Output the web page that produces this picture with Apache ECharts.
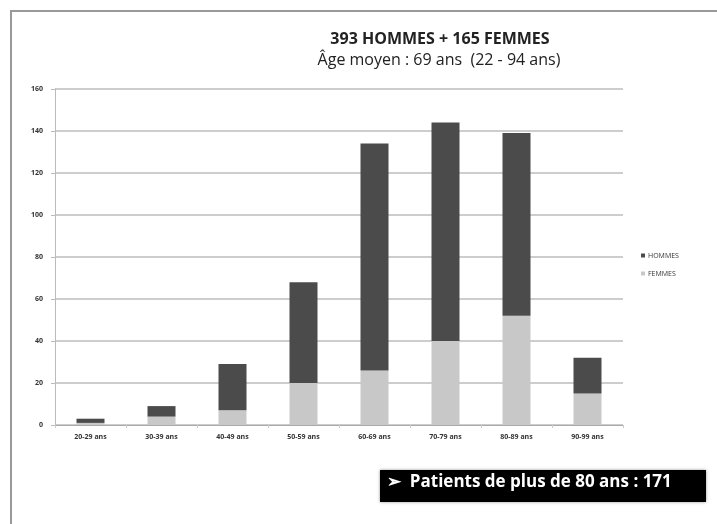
<!DOCTYPE html>
<html>
<head>
<meta charset="utf-8">
<title>Hommes / Femmes par âge</title>
<script src="https://cdn.jsdelivr.net/npm/echarts@6/dist/echarts.min.js"></script>
<style>
  html, body { margin: 0; padding: 0; background: #fff; }
  #chart { width: 717px; height: 524px; }
</style>
</head>
<body>
<div id="chart"></div>
<script>
const categories = ['20-29 ans', '30-39 ans', '40-49 ans', '50-59 ans', '60-69 ans', '70-79 ans', '80-89 ans', '90-99 ans'];
const femmes = [1, 4, 7, 20, 26, 40, 52, 15];
const hommes = [2, 5, 22, 48, 108, 104, 87, 17];
const yTicks = [0, 20, 40, 60, 80, 100, 120, 140, 160];

const chart = echarts.init(document.getElementById('chart'));

const option = {
  animation: false,
  backgroundColor: '#fff',
  title: [{
    text: '393 HOMMES + 165 FEMMES',
    left: 435, top: 26, textAlign: 'center',
    textStyle: { fontFamily: 'Open Sans', fontSize: 16, fontWeight: 'bold', color: '#222' }
  }, {
    text: 'Âge moyen : 69 ans  (22 - 94 ans)',
    left: 434, top: 47, textAlign: 'center',
    textStyle: { fontFamily: 'Open Sans', fontSize: 16, fontWeight: 'normal', color: '#222' }
  }],
  legend: {
    orient: 'vertical',
    left: 636, top: 247,
    itemWidth: 4, itemHeight: 4, itemGap: 11,
    icon: 'rect',
    data: ['HOMMES', 'FEMMES'],
    textStyle: { fontFamily: 'Open Sans', fontSize: 7, color: '#333', padding: [0, 0, 0, -2] }
  },
  grid: { left: 55, right: 94, top: 89, bottom: 99 },
  xAxis: {
    type: 'category',
    data: categories,
    axisLine: { lineStyle: { color: '#aaa', width: 1 } },
    axisTick: { show: true, length: 3, lineStyle: { color: '#ccc' } },
    axisLabel: { fontFamily: 'Open Sans', fontSize: 7, fontWeight: 'bold', color: '#333', margin: 8 }
  },
  yAxis: {
    type: 'value',
    min: 0, max: 160, interval: 20,
    axisLine: { show: true, lineStyle: { color: '#bbb' } },
    axisTick: { show: true, length: 4, lineStyle: { color: '#bbb' } },
    splitLine: { lineStyle: { color: '#bdbdbd', width: 1.5 } },
    axisLabel: {
      fontFamily: 'Open Sans', fontSize: 7, fontWeight: 'bold', color: '#333', margin: 12,
      formatter: v => yTicks.includes(v) ? String(v) : ''
    }
  },
  series: [{
    name: 'FEMMES', type: 'bar', stack: 'total', data: femmes,
    barWidth: 28, itemStyle: { color: '#c8c8c8' }
  }, {
    name: 'HOMMES', type: 'bar', stack: 'total', data: hommes,
    barWidth: 28, itemStyle: { color: '#4b4b4b' }
  }],
  graphic: [{
    type: 'polyline',
    shape: { points: [[11, 524], [11, 11], [717, 11]] },
    style: { stroke: '#999', lineWidth: 2, fill: null }
  }, {
    type: 'rect',
    shape: { x: 380, y: 470, width: 326, height: 32 },
    style: { fill: '#000', shadowBlur: 3, shadowColor: 'rgba(0,0,0,0.4)' }
  }, {
    type: 'text',
    left: 387, top: 474,
    style: {
      text: '➢  Patients de plus de 80 ans : 171',
      fill: '#fff', fontFamily: 'Open Sans', fontSize: 17, fontWeight: 'bold'
    }
  }]
};

chart.setOption(option);
</script>
</body>
</html>
